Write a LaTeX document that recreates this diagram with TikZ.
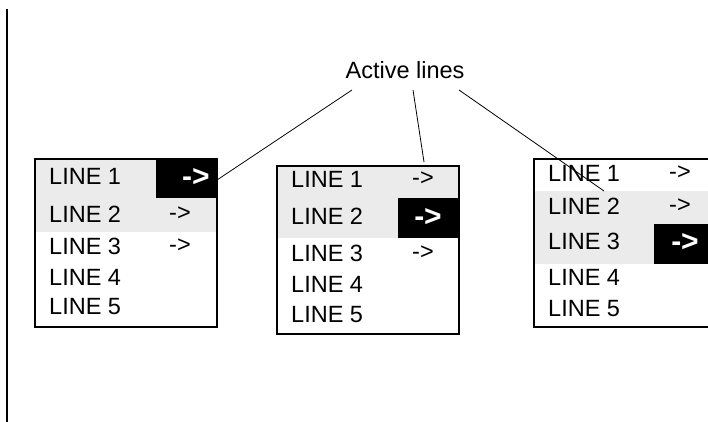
\documentclass[tikz,border=0pt]{standalone}
\usepackage{fontspec}
\setmainfont{Liberation Sans}
\definecolor{band}{HTML}{EBEBEB}
\begin{document}
\begin{tikzpicture}[x=1pt,y=-1pt,
  lbl/.style={anchor=west,inner sep=0pt,font=\fontsize{23.5}{26}\selectfont},
  sarr/.style={anchor=west,inner sep=0pt,font=\fontsize{23.5}{26}\selectfont},
  barr/.style={inner sep=0pt,text=white,font=\fontsize{30}{33}\selectfont\bfseries},
  frame/.style={draw=black,line width=2pt},
  conn/.style={draw=black,line width=0.8pt}]
\useasboundingbox (0,0) rectangle (708,422);
\draw[line width=2pt] (7,9) -- (7,422);
% Box 1
\fill[band] (35,159) rectangle (217,232);
\fill[black] (156,159) rectangle (217,198);
\draw[frame] (35,159) rectangle (217,327);
\node[lbl] (b1l1) at (49,176) {LINE 1};
\node[lbl] (b1l2) at (49,214) {LINE 2};
\node[lbl] (b1l3) at (49,246) {LINE 3};
\node[lbl] (b1l4) at (49,277) {LINE 4};
\node[lbl] (b1l5) at (49,307) {LINE 5};
\node[barr] (b1a1) at (196,177) {->};
\node[sarr] (b1a2) at (169,214) {->};
\node[sarr] (b1a3) at (169,246) {->};
% Box 2
\fill[band] (277,166) rectangle (459,238);
\fill[black] (398,198) rectangle (459,238);
\draw[frame] (277,166) rectangle (459,334);
\node[lbl] (b2l1) at (291,179) {LINE 1};
\node[lbl] (b2l2) at (291,216) {LINE 2};
\node[lbl] (b2l3) at (291,253) {LINE 3};
\node[lbl] (b2l4) at (291,284) {LINE 4};
\node[lbl] (b2l5) at (291,315) {LINE 5};
\node[sarr] (b2a1) at (412,179) {->};
\node[barr] (b2a2) at (428,217) {->};
\node[sarr] (b2a3) at (412,253) {->};
% Box 3
\fill[band] (534,191) rectangle (710,264);
\fill[black] (654,224) rectangle (710,264);
\draw[frame] (712,159) -- (534,159) -- (534,327) -- (712,327);
\node[lbl] (b3l1) at (548,173) {LINE 1};
\node[lbl] (b3l2) at (548,206) {LINE 2};
\node[lbl] (b3l3) at (548,241) {LINE 3};
\node[lbl] (b3l4) at (548,277) {LINE 4};
\node[lbl] (b3l5) at (548,309) {LINE 5};
\node[sarr] (b3a1) at (669,173) {->};
\node[sarr] (b3a2) at (669,206) {->};
\node[barr] (b3a3) at (685,242) {->};
% Label and connectors
\node[inner sep=0pt,font=\fontsize{23.5}{26}\selectfont] (act) at (405,70) {Active lines};
\coordinate (s1) at (352,90);
\coordinate (s2) at (413,90);
\coordinate (s3) at (459,90);
\coordinate (e1) at (217,180);
\coordinate (e2) at (424,162);
\coordinate (e3) at (604,191);
\draw[conn] (s1) -- (e1);
\draw[conn] (s2) -- (e2);
\draw[conn] (s3) -- (e3);
\end{tikzpicture}
\end{document}
